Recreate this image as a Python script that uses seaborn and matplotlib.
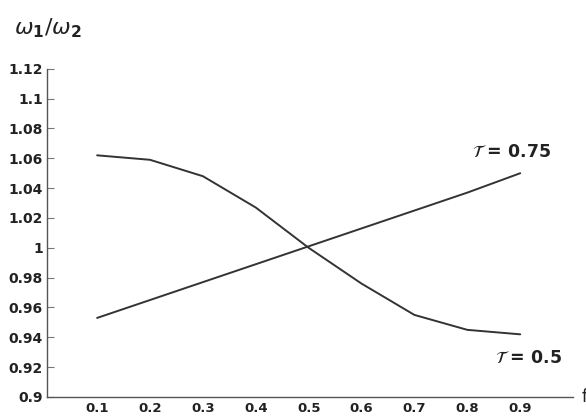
import matplotlib
matplotlib.use("Agg")
import matplotlib.pyplot as plt
import seaborn as sns
import pandas as pd
from matplotlib.ticker import FixedLocator, FuncFormatter

f_values = [0.1, 0.2, 0.3, 0.4, 0.5, 0.6, 0.7, 0.8, 0.9]
ratio_tau_050 = [1.062, 1.059, 1.048, 1.027, 1.000, 0.976, 0.955, 0.945, 0.942]
ratio_tau_075 = [0.953, 0.965, 0.977, 0.989, 1.001, 1.013, 1.025, 1.037, 1.050]
series_names = ["τ = 0.5", "τ = 0.75"]
y_ticks = [0.9, 0.92, 0.94, 0.96, 0.98, 1.0, 1.02, 1.04, 1.06, 1.08, 1.1, 1.12]
x_ticks = [0.1, 0.2, 0.3, 0.4, 0.5, 0.6, 0.7, 0.8, 0.9]

df = pd.DataFrame({
    "f": f_values * 2,
    "ratio": ratio_tau_050 + ratio_tau_075,
    "series": [series_names[0]] * len(f_values) + [series_names[1]] * len(f_values),
})

sns.set_style("white")
plt.rcParams["font.family"] = ["DejaVu Sans"]

fig = plt.figure(figsize=(5.86, 4.17), dpi=100)
ax = fig.add_axes([0.080, 0.048, 0.898, 0.787])

sns.lineplot(data=df, x="f", y="ratio", hue="series",
             palette=["#333333", "#333333"], linewidth=1.4,
             legend=False, ax=ax)

ax.set_xlim(0.005, 1.0)
ax.set_ylim(0.9, 1.12)
ax.yaxis.set_major_locator(FixedLocator(y_ticks))
ax.xaxis.set_major_locator(FixedLocator(x_ticks))
fmt = FuncFormatter(lambda v, p: f"{v:g}")
ax.yaxis.set_major_formatter(fmt)
ax.xaxis.set_major_formatter(fmt)
ax.set_xlabel("")
ax.set_ylabel("")

for s in ["top", "right"]:
    ax.spines[s].set_visible(False)
for s in ["left", "bottom"]:
    ax.spines[s].set_color("#555555")
    ax.spines[s].set_linewidth(1.0)

ax.tick_params(axis="y", direction="in", length=5, width=0.8, color="#777777",
               labelsize=10, pad=3, left=True)
ax.tick_params(axis="x", length=0, labelsize=9.5, pad=3.5, bottom=False)
for lab in ax.get_xticklabels() + ax.get_yticklabels():
    lab.set_fontweight("bold")
    lab.set_color("#222222")

fig.text(0.024, 0.918, r"$\omega_{\mathbf{1}}/\omega_{\mathbf{2}}$", fontsize=16, color="#222222")
ax.text(0.809, 1.061, r"$\mathcal{T}$ = 0.75", fontsize=12.5, color="#222222",
        fontweight="bold", math_fontfamily="stix")
ax.text(0.852, 0.9228, r"$\mathcal{T}$ = 0.5", fontsize=12.5, color="#222222",
        fontweight="bold", math_fontfamily="stix")
fig.text(0.992, 0.048, "f", fontsize=12, color="#222222", va="center")

fig.savefig("out.png", dpi=100)
